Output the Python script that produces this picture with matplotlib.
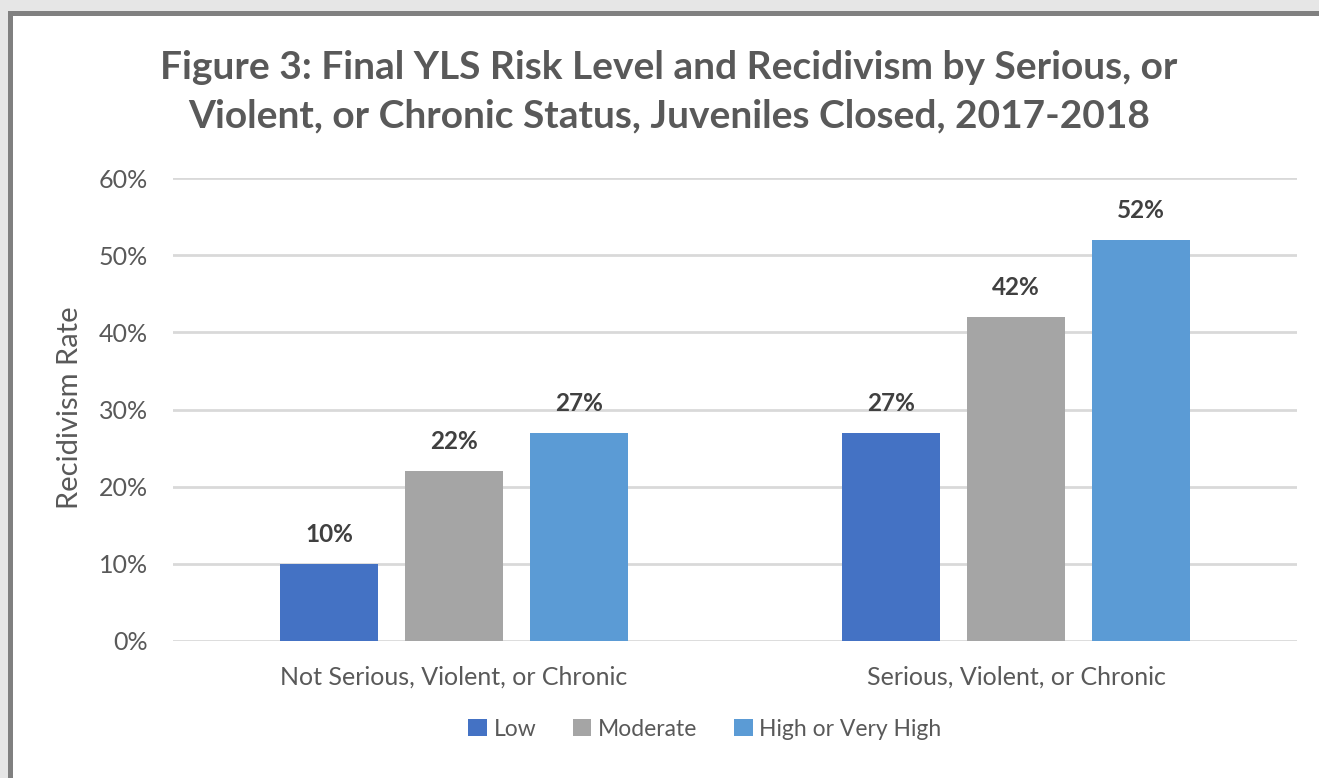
import numpy as np
import matplotlib.pyplot as plt
from matplotlib.patches import Rectangle

# data
groups = ['Not Serious, Violent, or Chronic', 'Serious, Violent, or Chronic']
levels = ['Low', 'Moderate', 'High or Very High']
low = [10, 27]
moderate = [22, 42]
high = [27, 52]
yticks = [0, 10, 20, 30, 40, 50, 60]

colors = ['#4472C4', '#A5A5A5', '#5B9BD5']
txt = '#595959'

plt.rcParams['font.family'] = ['Lato', 'DejaVu Sans']

W, H = 1319, 778
fig = plt.figure(figsize=(W / 100, H / 100), dpi=100, facecolor='#E6E6E6')

# chart frame: white panel with dark grey border (right/bottom run off the image)
fig.patches.append(Rectangle((8 / W, -0.1), 1.2, (H - 11) / H + 0.1,
                             transform=fig.transFigure, facecolor='#808080',
                             edgecolor='none', zorder=-10))
fig.patches.append(Rectangle((13 / W, -0.1), 1.2, (H - 16) / H + 0.1,
                             transform=fig.transFigure, facecolor='white',
                             edgecolor='none', zorder=-9))

ax = fig.add_axes([173 / W, (H - 641) / H, (1297 - 173) / W, (641 - 178) / H])
ax.set_facecolor('none')

x = np.arange(len(groups))
step = 0.222
width = 0.175
series = [low, moderate, high]
for i, (vals, c, lab) in enumerate(zip(series, colors, levels)):
    bars = ax.bar(x + (i - 1) * step, vals, width, color=c, label=lab, zorder=3)
    for b, v in zip(bars, vals):
        ax.annotate(f'{v}%', (b.get_x() + b.get_width() / 2, v),
                    xytext=(0, 13), textcoords='offset points',
                    ha='center', va='bottom', fontsize=17.5, fontweight='bold',
                    color='#404040')

ax.set_xlim(-0.5, 1.5)
ax.set_ylim(0, 60)
ax.set_yticks(yticks)
ax.set_yticklabels([f'{t}%' for t in yticks])
ax.set_xticks(x)
ax.set_xticklabels(groups)
ax.grid(axis='y', color='#D9D9D9', linewidth=2, zorder=0)
for s in ax.spines.values():
    s.set_visible(False)
ax.tick_params(length=0, colors=txt, labelsize=18)
ax.tick_params(axis='y', pad=18)
ax.tick_params(axis='x', pad=18)

fig.text(70 / W, 1 - 408 / H, 'Recidivism Rate', rotation=90, ha='center',
         va='center', fontsize=21, color=txt)

fig.text(669 / W, 1 - 92 / H,
         'Figure 3: Final YLS Risk Level and Recidivism by Serious, or\n'
         'Violent, or Chronic Status, Juveniles Closed, 2017-2018',
         ha='center', va='center', fontsize=28, fontweight='bold', color=txt,
         linespacing=1.45)

fig.legend(loc='center', bbox_to_anchor=(705 / W, 1 - 729 / H), ncol=3,
           frameon=False, fontsize=16.5, labelcolor=txt, handlelength=0.8,
           handleheight=0.8, handletextpad=0.3, columnspacing=1.6)

fig.savefig('out.png', dpi=100, facecolor=fig.get_facecolor())
